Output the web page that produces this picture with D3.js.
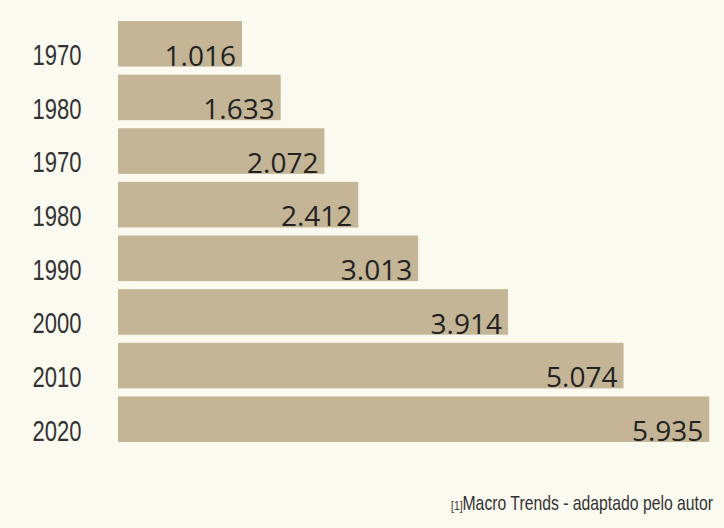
<!DOCTYPE html>
<html>
<head>
<meta charset="utf-8">
<script src="https://cdn.jsdelivr.net/npm/d3@7"></script>
<style>
  html, body { margin: 0; padding: 0; background: #fbfaf0; }
  svg { display: block; }
</style>
</head>
<body>
<svg id="chart" width="724" height="528"></svg>
<script>
const years = ["1970", "1980", "1970", "1980", "1990", "2000", "2010", "2020"];
const values = [1.016, 1.633, 2.072, 2.412, 3.013, 3.914, 5.074, 5.935];
const valueLabels = ["1.016", "1.633", "2.072", "2.412", "3.013", "3.914", "5.074", "5.935"];
const sourceRef = "[1]";
const sourceText = "Macro Trends - adaptado pelo autor";

const svg = d3.select("#chart");
const left = 118;
const minBarWidth = 124;

const x = d3.scaleLinear().domain([0, d3.max(values)]).range([0, 591.3]);
const y = d3.scaleBand().domain(d3.range(values.length)).range([21, 442]).paddingInner(0.15).paddingOuter(0);

const narrow = "'Liberation Sans', Arial, sans-serif";
const defs = svg.append("defs");

const rows = svg.selectAll("g.row").data(values).join("g").attr("class", "row");

rows.each(function(d, i) {
  const g = d3.select(this);
  const w = Math.max(x(d), minBarWidth);
  const y0 = y(i), bh = y.bandwidth();
  defs.append("clipPath").attr("id", "clip" + i)
    .append("rect").attr("x", left).attr("y", y0).attr("width", w).attr("height", bh);
  g.append("rect")
    .attr("x", left).attr("y", y0).attr("width", w).attr("height", bh)
    .attr("fill", "#c3b596");
  g.append("text")
    .attr("clip-path", "url(#clip" + i + ")")
    .attr("x", left + w - 6).attr("y", y0 + bh - 1)
    .attr("text-anchor", "end")
    .attr("font-family", "'Open Sans', 'Noto Sans', sans-serif")
    .attr("font-size", 28)
    .attr("fill", "#222222")
    .text(valueLabels[i]);
  g.append("text")
    .attr("transform", `translate(81.5, ${y0 + bh - 1.5}) scale(0.76, 1)`)
    .attr("text-anchor", "end")
    .attr("font-family", narrow)
    .attr("font-size", 29)
    .attr("fill", "#333333")
    .text(years[i]);
});

const srcG = svg.append("g");
const src = srcG.append("text")
  .attr("x", 0).attr("y", 0)
  .attr("text-anchor", "end")
  .attr("font-family", narrow)
  .attr("fill", "#333333");
src.append("tspan").attr("font-size", 13).text(sourceRef);
src.append("tspan").attr("font-size", 20).text(sourceText);
const srcW = src.node().getComputedTextLength();
srcG.attr("transform", `translate(713, 510) scale(${262 / srcW}, 1)`);
</script>
</body>
</html>
